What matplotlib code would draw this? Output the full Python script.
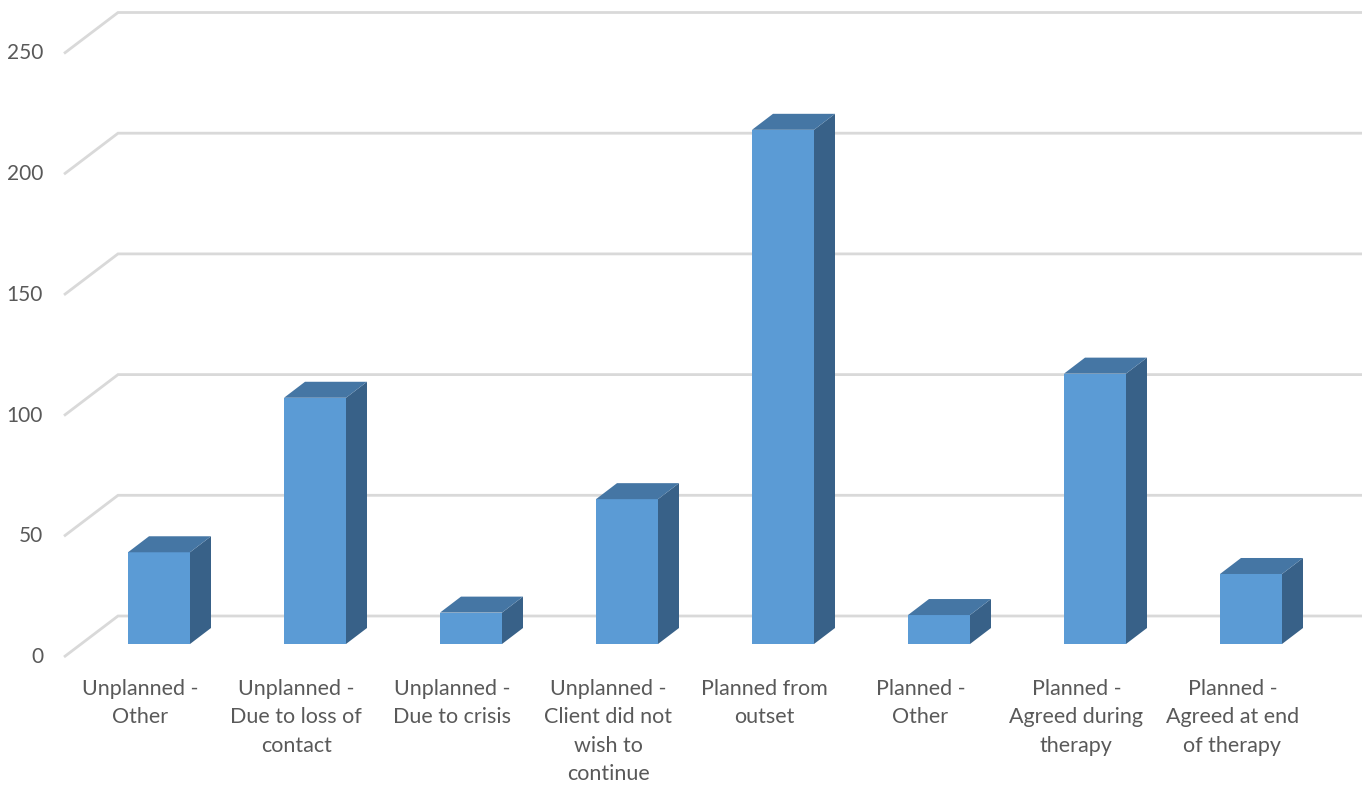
import matplotlib
matplotlib.use("Agg")
import matplotlib.pyplot as plt
from matplotlib.patches import Polygon

categories = ["Unplanned -\nOther", "Unplanned -\nDue to loss of\ncontact", "Unplanned -\nDue to crisis",
              "Unplanned -\nClient did not\nwish to\ncontinue", "Planned from\noutset", "Planned -\nOther",
              "Planned -\nAgreed during\ntherapy", "Planned -\nAgreed at end\nof therapy"]
values = [38, 102, 13, 60, 213, 12, 112, 29]
yticks = [0, 50, 100, 150, 200, 250]

plt.rcParams['font.family'] = ['Lato', 'DejaVu Sans']
TXT = '#595959'
GRID = '#D9D9D9'
FRONT = '#5B9BD5'
TOP = '#4576A4'
SIDE = '#386188'

fig = plt.figure(figsize=(13.71, 7.87), dpi=100)
ax = fig.add_axes([0, 0, 1, 1])
ax.set_xlim(-159 / 156, 1212 / 156)
ax.set_ylim((644 - 787) / 2.414, 644 / 2.414)
ax.axis('off')

# perspective offsets (data units)
full_dx, full_dy = 54 / 156, 41 / 2.414
front_dx, front_dy = -0.317 * full_dx, -0.317 * full_dy
back_dx, back_dy = 0.683 * full_dx, 0.683 * full_dy
bar_dx, bar_dy = 21 / 156, 16 / 2.414
w = 62 / 156

x_left_front = (64 - 159) / 156
x_left_back = x_left_front + full_dx
x_right_back = (1362 - 159) / 156

for v in yticks:
    ax.plot([x_left_front, x_left_back, x_right_back],
            [v + front_dy, v + back_dy, v + back_dy], color=GRID, lw=2, zorder=1,
            solid_capstyle='butt', solid_joinstyle='miter')
    ax.text((43 - 159) / 156, v + front_dy, str(v), ha='right', va='center',
            fontsize=15, color=TXT)

xs = list(range(len(values)))
ax.bar(xs, values, width=w, color=FRONT, zorder=3, linewidth=0)
for i, v in zip(xs, values):
    r = i + w / 2
    l = i - w / 2
    side = Polygon([(r, 0), (r + bar_dx, bar_dy), (r + bar_dx, v + bar_dy), (r, v)],
                   closed=True, facecolor=SIDE, edgecolor='none', zorder=3)
    top = Polygon([(l, v), (r, v), (r + bar_dx, v + bar_dy), (l + bar_dx, v + bar_dy)],
                  closed=True, facecolor=TOP, edgecolor='none', zorder=3)
    ax.add_patch(side)
    ax.add_patch(top)

for i, lab in zip(xs, categories):
    ax.text(i + front_dx - 0.01, (644 - 679) / 2.414, lab, ha='center', va='top',
            fontsize=15.5, color=TXT, linespacing=1.52)

fig.savefig('out.png', dpi=100)
